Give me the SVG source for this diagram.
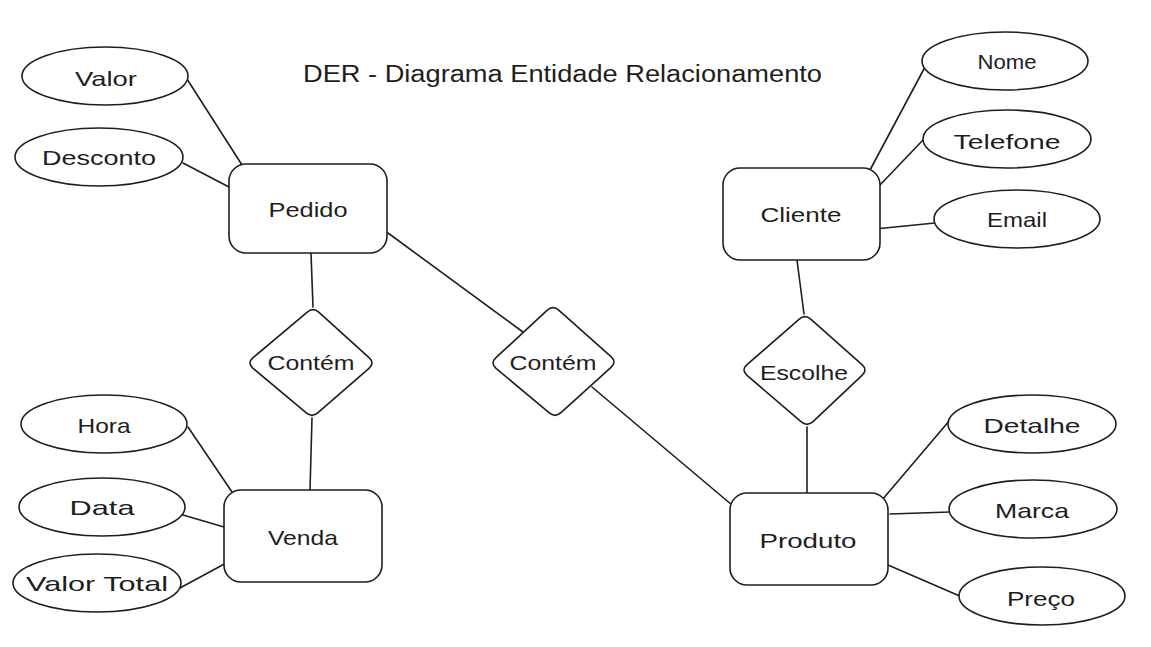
<svg xmlns="http://www.w3.org/2000/svg" width="1151" height="647" viewBox="0 0 1151 647">
<style>
.shape{fill:#ffffff;stroke:#1e1e1e;stroke-width:1.6;stroke-linejoin:round}
.conn line{stroke:#1e1e1e;stroke-width:1.6;stroke-linecap:round}
text{font-family:"Liberation Sans",Arial,sans-serif;font-size:21px;fill:#1e1e1e;text-anchor:middle;dominant-baseline:central}
.title{text-anchor:start;font-size:23px}
</style>
<rect width="1151" height="647" fill="#ffffff"/>
<text class="title" x="303" y="74" textLength="519" lengthAdjust="spacingAndGlyphs">DER - Diagrama Entidade Relacionamento</text>
<g id="connectors" class="conn">
<line x1="187" y1="79" x2="242" y2="165"/>
<line x1="183" y1="163" x2="229" y2="187"/>
<line x1="311" y1="253" x2="313" y2="307"/>
<line x1="312" y1="418" x2="310" y2="490"/>
<line x1="388" y1="233" x2="527" y2="335"/>
<line x1="592" y1="387" x2="732" y2="505"/>
<line x1="797" y1="260" x2="804" y2="314"/>
<line x1="807" y1="427" x2="807" y2="493"/>
<line x1="925" y1="67" x2="870" y2="170"/>
<line x1="923" y1="140" x2="880" y2="185"/>
<line x1="935" y1="223" x2="875" y2="229"/>
<line x1="188" y1="427" x2="232" y2="492"/>
<line x1="183" y1="515" x2="224" y2="527"/>
<line x1="180" y1="588" x2="228" y2="562"/>
<line x1="950" y1="420" x2="882" y2="500"/>
<line x1="950" y1="512" x2="890" y2="514"/>
<line x1="962" y1="597" x2="888" y2="565"/>
</g>
<g id="pedido"><rect class="shape" x="229" y="164" width="158" height="89" rx="17"/><text x="308" y="209" textLength="79" lengthAdjust="spacingAndGlyphs">Pedido</text></g>
<g id="cliente"><rect class="shape" x="723" y="168" width="157" height="92" rx="17"/><text x="801" y="214" textLength="81" lengthAdjust="spacingAndGlyphs">Cliente</text></g>
<g id="venda"><rect class="shape" x="224" y="490" width="158" height="92" rx="17"/><text x="303" y="537" textLength="70" lengthAdjust="spacingAndGlyphs">Venda</text></g>
<g id="produto"><rect class="shape" x="730" y="493" width="158" height="92" rx="17"/><text x="808" y="540" textLength="97" lengthAdjust="spacingAndGlyphs">Produto</text></g>
<g id="contem1"><path class="shape" d="M319,312.3 L369,357.7 Q375,363 369,368.3 L318,412.7 Q312,418 306,412.7 L253,368.3 Q247,363 253,357.7 L307,312.3 Q313,307 319,312.3Z"/><text x="311" y="362" textLength="87" lengthAdjust="spacingAndGlyphs">Contém</text></g>
<g id="contem2"><path class="shape" d="M559,310.3 L611,356.7 Q617,362 611,367.3 L561,412.7 Q555,418 549,412.7 L496,368.3 Q490,363 496,357.7 L547,310.3 Q553,305 559,310.3Z"/><text x="553" y="362" textLength="87" lengthAdjust="spacingAndGlyphs">Contém</text></g>
<g id="escolhe"><path class="shape" d="M811,319.3 L862,364.7 Q868,370 862,375.3 L813,421.7 Q807,427 801,421.7 L747,375.3 Q741,370 747,364.7 L799,319.3 Q805,314 811,319.3Z"/><text x="804" y="372" textLength="88" lengthAdjust="spacingAndGlyphs">Escolhe</text></g>
<g id="valor"><ellipse class="shape" cx="105" cy="76" rx="83" ry="29"/><text x="106" y="78" textLength="62" lengthAdjust="spacingAndGlyphs">Valor</text></g>
<g id="desconto"><ellipse class="shape" cx="99" cy="157" rx="84" ry="29"/><text x="99" y="157" textLength="114" lengthAdjust="spacingAndGlyphs">Desconto</text></g>
<g id="hora"><ellipse class="shape" cx="104" cy="424" rx="83" ry="29"/><text x="104" y="425" textLength="53" lengthAdjust="spacingAndGlyphs">Hora</text></g>
<g id="data"><ellipse class="shape" cx="102" cy="507" rx="83" ry="29"/><text x="102" y="507" textLength="65" lengthAdjust="spacingAndGlyphs">Data</text></g>
<g id="valortotal"><ellipse class="shape" cx="97" cy="583" rx="84" ry="29"/><text x="97" y="583" textLength="142" lengthAdjust="spacingAndGlyphs">Valor Total</text></g>
<g id="nome"><ellipse class="shape" cx="1005" cy="61" rx="83" ry="29"/><text x="1007" y="61" textLength="59" lengthAdjust="spacingAndGlyphs">Nome</text></g>
<g id="telefone"><ellipse class="shape" cx="1007" cy="139" rx="84" ry="29"/><text x="1007" y="141" textLength="107" lengthAdjust="spacingAndGlyphs">Telefone</text></g>
<g id="email"><ellipse class="shape" cx="1017" cy="219" rx="83" ry="29"/><text x="1017" y="219" textLength="60" lengthAdjust="spacingAndGlyphs">Email</text></g>
<g id="detalhe"><ellipse class="shape" cx="1032" cy="424" rx="84" ry="29"/><text x="1032" y="425" textLength="97" lengthAdjust="spacingAndGlyphs">Detalhe</text></g>
<g id="marca"><ellipse class="shape" cx="1033" cy="509" rx="84" ry="29"/><text x="1032" y="510" textLength="74" lengthAdjust="spacingAndGlyphs">Marca</text></g>
<g id="preco"><ellipse class="shape" cx="1042" cy="596" rx="83" ry="29"/><text x="1041" y="598" textLength="68" lengthAdjust="spacingAndGlyphs">Preço</text></g>
</svg>
